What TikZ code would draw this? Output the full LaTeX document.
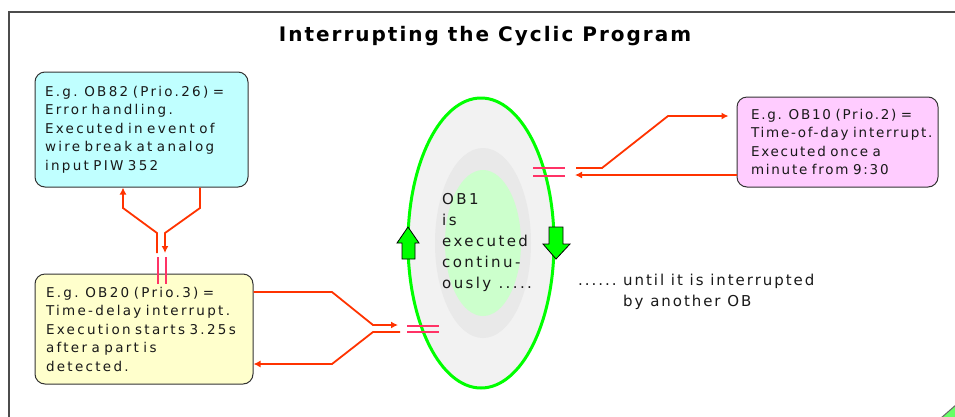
\documentclass[tikz,border=0pt]{standalone}
\usepackage{fontspec}
\setmainfont{DejaVu Sans}
\newfontfamily\boxfont[LetterSpace=17]{DejaVu Sans}
\newfontfamily\boxfontb[LetterSpace=13]{DejaVu Sans}
\newfontfamily\bigfont[LetterSpace=16]{DejaVu Sans}
\newfontfamily\sidefont[LetterSpace=13]{DejaVu Sans}
\newfontfamily\titlefont[LetterSpace=10]{DejaVu Sans}
\usetikzlibrary{arrows.meta,shapes.geometric}
\definecolor{connc}{RGB}{255,51,0}
\definecolor{brkc}{RGB}{255,51,102}
\definecolor{ocyan}{RGB}{192,255,255}
\definecolor{oyellow}{RGB}{255,255,204}
\definecolor{opink}{RGB}{255,204,255}
\definecolor{ogreen}{RGB}{0,255,0}
\definecolor{lgray}{RGB}{242,242,242}
\definecolor{mgray}{RGB}{233,233,233}
\definecolor{lgreen}{RGB}{204,255,204}
\definecolor{txtc}{RGB}{25,25,25}
\begin{document}
\begin{tikzpicture}[x=1pt,y=-1pt,
  obbox/.style={draw=black!80, line width=1pt, rounded corners=10pt, inner xsep=0pt, inner ysep=0pt,
    align=left, font=\boxfont\fontsize{13.5}{18.5}\selectfont, text=txtc},
  connline/.style={draw=connc, line width=1.8pt, line join=miter},
  connarrow/.style={connline, -{Latex[length=7pt,width=7pt]}},
  brkline/.style={draw=brkc, line width=1.4pt},
  blockarrow/.style={draw=black, line width=0.8pt, fill=ogreen},
  plain/.style={font=\bigfont\fontsize{15}{21}\selectfont, text=txtc, align=left, inner sep=0pt}
]
\useasboundingbox (0,0) rectangle (955,416);
\fill[white] (0,0) rectangle (955,416);
% frame
\draw[black!70, line width=1.5pt] (9,425) -- (9,12) -- (965,12);
% title
\node[font=\titlefont\bfseries\fontsize{20}{24}\selectfont, inner sep=0pt, anchor=base] (title) at (485,41) {Interrupting the Cyclic Program};

% OB1 ellipse
\node[ellipse, draw=ogreen, line width=3pt, fill=lgray, minimum width=146pt, minimum height=290pt, inner sep=0pt] (ob1) at (481,243) {};
\node[ellipse, fill=mgray, minimum width=96pt, minimum height=190pt, inner sep=0pt] (ob1mid) at (483,243) {};
\node[ellipse, fill=lgreen, minimum width=76pt, minimum height=146pt, inner sep=0pt] (ob1in) at (483,243) {};
\node[plain, anchor=base west] (ob1txt) at (442,288) {OB1\\is\\executed\\continu-\\ously .....};

% green block arrows
\draw[blockarrow] (408,227) -- (419,243) -- (415,243) -- (415,259) -- (402,259) -- (402,243) -- (397,243) -- cycle;
\draw[blockarrow] (549,227) -- (563,227) -- (563,244) -- (570,244) -- (556,259) -- (543,244) -- (549,244) -- cycle;

% boxes
\node[obbox, fill=ocyan, minimum width=213pt, minimum height=115pt, text width=193pt] (ob82) at (141.5,129.5)
  {E.g. OB82 (Prio.26) =\\Error handling.\\Executed in event of\\wire break at analog\\input PIW 352};
\node[obbox, fill=oyellow, minimum width=218pt, minimum height=110pt, text width=196pt] (ob20) at (144,329)
  {E.g. OB20 (Prio.3) =\\Time-delay interrupt.\\Execution starts 3.25s\\after a part is\\detected.};
\node[obbox, fill=opink, minimum width=201pt, minimum height=90pt, text width=173pt, font=\boxfontb\fontsize{13.5}{18.5}\selectfont] (ob10) at (837.5,142)
  {E.g. OB10 (Prio.2) =\\Time-of-day interrupt.\\Executed once a\\minute from 9:30};

% side text
\node[plain, font=\sidefont\fontsize{15}{21}\selectfont, anchor=base west] (dots) at (578,285) {......};
\node[plain, font=\sidefont\fontsize{15}{21}\selectfont, anchor=base west] (until) at (623,306) {until it is interrupted\\by another OB};

% OB82 <-> OB20
\coordinate (b1) at (157,253);
\coordinate (b2) at (165,253);
\draw[connarrow] (b1) -- (157,233) -- (123,208) -- (ob82.south -| 123,0);
\draw[connarrow] (ob82.south -| 200,0) -- (200,208) -- (165,233) -- (b2);
\draw[brkline] (158,257) -- (158,284) (166,257) -- (166,284);

% OB20 <-> OB1
\coordinate (c1) at (398,325);
\coordinate (c2) at (400,332);
\draw[connarrow] (ob20.east |- 0,292) -- (332,292) -- (373,325) -- (c1);
\draw[connarrow] (c2) -- (373,332) -- (332,364) -- (ob20.east |- 0,364);
\draw[brkline] (407,326) -- (439,326) (407,332) -- (439,332);

% OB1 <-> OB10
\coordinate (d1) at (576,168);
\coordinate (d2) at (575,175);
\draw[connarrow, shorten >=8pt] (d1) -- (602,168) -- (668,116) -- (ob10.west |- 0,116);
\draw[connarrow] (ob10.west |- 0,175) -- (d2);
\draw[brkline] (533,168) -- (565,168) (533,176) -- (565,176);

% partial green shape at bottom right
\fill[ogreen!60!white] (941,418) -- (957,404) -- (957,418) -- cycle;
\draw[black!60, line width=1pt] (941,418) -- (957,404);
\end{tikzpicture}
\end{document}
